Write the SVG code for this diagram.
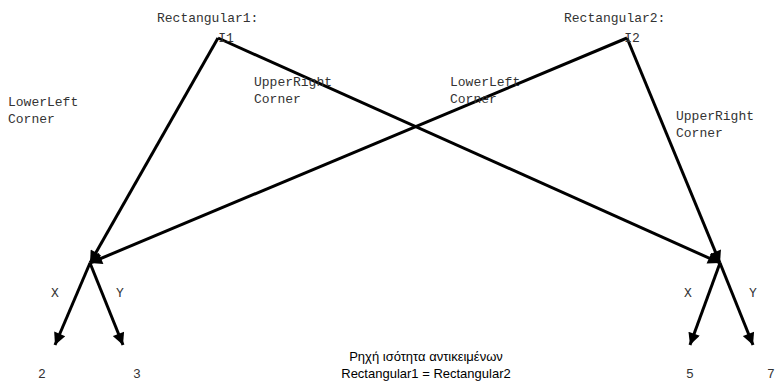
<svg xmlns="http://www.w3.org/2000/svg" width="784" height="387" viewBox="0 0 784 387">
  <style>
    .mono { font-family: "Liberation Mono", "Courier New", monospace; font-size: 13px; fill: #333; }
    .sans { font-family: "Liberation Sans", Arial, sans-serif; font-size: 13px; fill: #000; }
    .edge { stroke: #000; stroke-width: 3; fill: none; marker-end: url(#arrow); }
  </style>
  <defs>
    <marker id="arrow" viewBox="0 0 10 10" refX="10" refY="5" markerWidth="5" markerHeight="4" markerUnits="strokeWidth" orient="auto">
      <path d="M0,0 L10,5 L0,10 z" fill="#000"/>
    </marker>
  </defs>
  <rect width="784" height="387" fill="#fff"/>

  <!-- reference links: instance fields to the two shared points -->
  <g id="connectors">
    <line class="edge" x1="218" y1="38" x2="90" y2="263"/>
    <line class="edge" x1="218" y1="38" x2="720" y2="263"/>
    <line class="edge" x1="627" y1="38" x2="90" y2="263"/>
    <line class="edge" x1="627" y1="38" x2="720" y2="263"/>
    <line class="edge" x1="90" y1="263" x2="55" y2="345"/>
    <line class="edge" x1="90" y1="263" x2="123" y2="345"/>
    <line class="edge" x1="720" y1="263" x2="690" y2="345"/>
    <line class="edge" x1="720" y1="263" x2="753" y2="345"/>
  </g>

  <g id="rect1">
    <text class="mono" x="157" y="22">Rectangular1:</text>
    <text class="mono" x="226" y="42" text-anchor="middle">I1</text>
  </g>
  <g id="rect2">
    <text class="mono" x="564" y="22">Rectangular2:</text>
    <text class="mono" x="632" y="42" text-anchor="middle">I2</text>
  </g>

  <g id="edge-labels">
    <text class="mono" x="8" y="106">LowerLeft</text>
    <text class="mono" x="8" y="123">Corner</text>
    <text class="mono" x="254" y="86">UpperRight</text>
    <text class="mono" x="254" y="103">Corner</text>
    <text class="mono" x="450" y="86">LowerLeft</text>
    <text class="mono" x="450" y="103">Corner</text>
    <text class="mono" x="676" y="120">UpperRight</text>
    <text class="mono" x="676" y="137">Corner</text>
    <text class="mono" x="51" y="297">X</text>
    <text class="mono" x="116" y="297">Y</text>
    <text class="mono" x="684" y="297">X</text>
    <text class="mono" x="749" y="297">Y</text>
  </g>

  <g id="left-point">
    <text class="mono" x="38" y="378">2</text>
    <text class="mono" x="133" y="378">3</text>
  </g>
  <g id="right-point">
    <text class="mono" x="686" y="378">5</text>
    <text class="mono" x="767" y="378">7</text>
  </g>

  <g id="caption">
    <text class="sans" x="426" y="361" text-anchor="middle">Ρηχή ισότητα αντικειμένων</text>
    <text class="sans" x="426" y="378" text-anchor="middle">Rectangular1 = Rectangular2</text>
  </g>
</svg>
